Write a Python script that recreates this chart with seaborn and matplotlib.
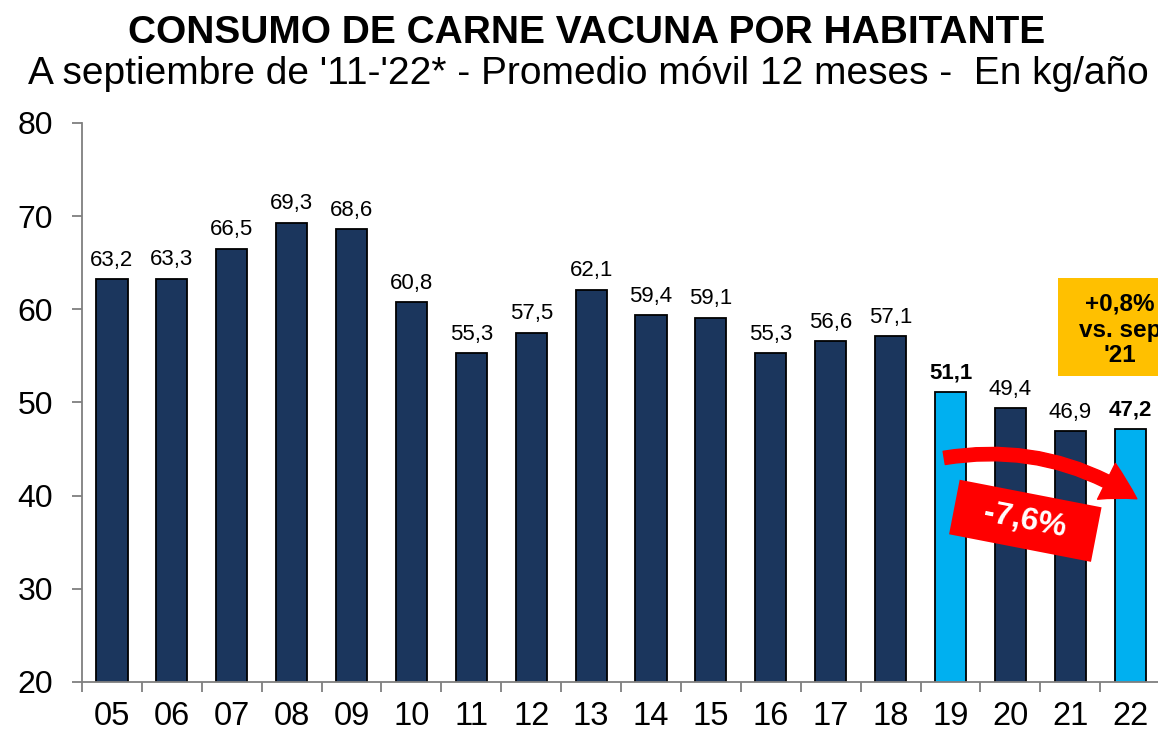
import matplotlib
matplotlib.use("Agg")
import matplotlib.pyplot as plt
import numpy as np
import pandas as pd
import seaborn as sns
from matplotlib.patches import FancyArrowPatch

YEARS = ["05", "06", "07", "08", "09", "10", "11", "12", "13", "14", "15", "16", "17", "18", "19", "20", "21", "22"]
CONSUMO = [63.2, 63.3, 66.5, 69.3, 68.6, 60.8, 55.3, 57.5, 62.1, 59.4, 59.1, 55.3, 56.6, 57.1, 51.1, 49.4, 46.9, 47.2]
HIGHLIGHT = ["19", "22"]

TITLE = "CONSUMO DE CARNE VACUNA POR HABITANTE"
SUBTITLE = "A septiembre de '11-'22* - Promedio móvil 12 meses -  En kg/año"
BOX_TEXT = "+0,8%\nvs. sep\n'21"
CHANGE_TEXT = "  -7,6%  "

NAVY = "#1B365D"
SKY = "#00B0F0"

sns.set_theme(style="white")
plt.rcParams["font.family"] = ["Liberation Sans", "DejaVu Sans"]
plt.rcParams["text.color"] = "black"
plt.rcParams["xtick.color"] = "black"
plt.rcParams["ytick.color"] = "black"

df = pd.DataFrame({"year": YEARS, "kg": CONSUMO})
palette = {y: (SKY if y in HIGHLIGHT else NAVY) for y in YEARS}

fig = plt.figure(figsize=(11.58, 7.38), dpi=100)
ax = fig.add_axes([0.0708, 0.0759, 0.9310, 0.7575])

sns.barplot(data=df, x="year", y="kg", hue="year", palette=palette, legend=False, saturation=1,
            width=0.52, edgecolor="black", linewidth=1.3, ax=ax)

ax.set_ylim(20, 80)
ax.set_xlim(-0.5, len(YEARS) - 0.5)
ax.set_yticks(np.arange(20, 81, 10))
ax.set_xlabel("")
ax.set_ylabel("")

for side in ["top", "right"]:
    ax.spines[side].set_visible(False)
for side in ["left", "bottom"]:
    ax.spines[side].set_color("#7F7F7F")
    ax.spines[side].set_linewidth(1.3)

ax.tick_params(axis="y", which="major", direction="out", length=7, width=1.3, color="#7F7F7F",
               labelsize=23, pad=14, left=True)
ax.tick_params(axis="x", which="major", length=0, labelsize=23.5, pad=14)
ax.set_xticks(np.arange(-0.5, len(YEARS), 1.0), minor=True)
ax.tick_params(axis="x", which="minor", direction="out", length=7, width=1.3, color="#7F7F7F", bottom=True)

for bar, year, val in zip(ax.patches, YEARS, CONSUMO):
    bold = year in HIGHLIGHT
    ax.annotate(f"{val:.1f}".replace(".", ","),
                (bar.get_x() + bar.get_width() / 2, bar.get_height()),
                xytext=(0, 6), textcoords="offset points", ha="center", va="bottom",
                fontsize=16, fontweight="bold" if bold else "normal", color="black")

fig.text(0.507, 0.955, TITLE, ha="center", va="center", fontsize=28, fontweight="bold")
fig.text(0.508, 0.900, SUBTITLE, ha="center", va="center", fontsize=28)

# orange box (clipped by figure edge)
fig.patches.append(plt.Rectangle((1058 / 1158, 1 - 376 / 738), 0.12, 98 / 738,
                                 transform=fig.transFigure, facecolor="#FFC000", edgecolor="none", zorder=5))
fig.text(1120 / 1158, 1 - 330 / 738, BOX_TEXT, ha="center", va="center", fontsize=17.5,
         fontweight="bold", linespacing=1.15, zorder=6)

# curved red arrow from 19 to 22
arrow = FancyArrowPatch((13.85, 44.0), (17.15, 39.5), connectionstyle="arc3,rad=-0.2",
                        arrowstyle="simple,head_width=2.4,head_length=2.1,tail_width=0.8",
                        mutation_scale=12, color="#FF0000", zorder=6)
ax.add_patch(arrow)

ax.text(15.25, 37.3, CHANGE_TEXT, rotation=-11, ha="center", va="center", fontsize=23,
        fontweight="bold", color="white", zorder=7,
        bbox=dict(boxstyle="square,pad=0.4", facecolor="#FF0000", edgecolor="none"))

fig.savefig("out.png", dpi=100)
